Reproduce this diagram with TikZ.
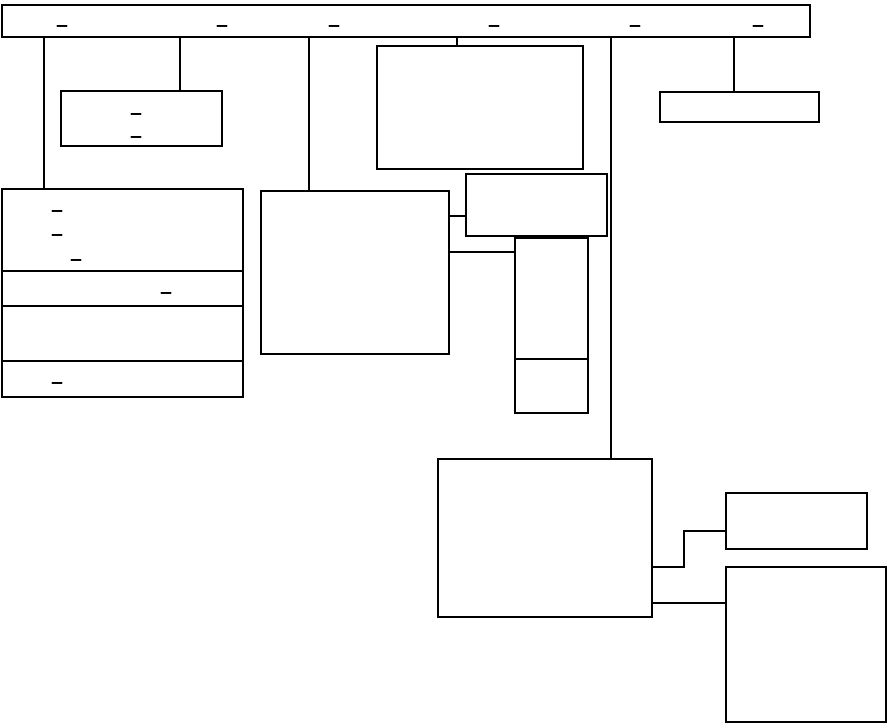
\documentclass[tikz,border=0pt]{standalone}
\usepackage{fontspec}
\newfontfamily\usfont{DejaVu Sans}
\usepackage{tikz}

\tikzset{
  box/.style={draw, line width=2.2pt, inner sep=0pt},
  thin/.style={line width=1.2pt},
  thick/.style={line width=2.8pt},
  uscore/.style={inner sep=0pt, anchor=south, font=\usfont\bfseries\fontsize{21}{24}\selectfont}
}

\begin{document}
\begin{tikzpicture}[x=1pt, y=-1pt]
  \useasboundingbox (0,0) rectangle (887,723);
  %% top bar
  \node[box, minimum width=808, minimum height=32] (bar) at (406,21) {};
  \foreach \x [count=\i] in {62,222,334,494,635,758}
    \node[uscore] (bu\i) at (\x,28) {\_};
  %% boxes below the bar
  \node[box, minimum width=161, minimum height=55] (lbl) at (141.5,118.5) {};
  \node[uscore] (lu1) at (136,116) {\_};
  \node[uscore] (lu2) at (136,139) {\_};
  \node[box, minimum width=241, minimum height=208] (reg) at (122.5,293) {};
  \draw[thin] (reg.west |- 0,271) -- (reg.east |- 0,271);
  \draw[thin] (reg.west |- 0,306) -- (reg.east |- 0,306);
  \draw[box] (reg.west |- 0,361) -- (reg.east |- 0,361);
  \foreach \x/\y [count=\i] in {57/213,57/237,76/262,166/295,57/385}
    \node[uscore] (ru\i) at (\x,\y) {\_};
  \node[box, minimum width=188, minimum height=163] (mid) at (355,272.5) {};
  \node[box, minimum width=206, minimum height=123] (topc) at (480,107.5) {};
  \node[box, minimum width=159, minimum height=30] (rtop) at (739.5,107) {};
  \node[box, minimum width=141, minimum height=62] (side) at (536.5,205) {};
  \node[box, minimum width=73, minimum height=175] (tall) at (551.5,325.5) {};
  \draw[box] (tall.west |- 0,359) -- (tall.east |- 0,359);
  %% lower group
  \node[box, minimum width=214, minimum height=158] (bot) at (545,538) {};
  \node[box, minimum width=141, minimum height=56] (bsmall) at (796.5,521) {};
  \node[box, minimum width=160, minimum height=155] (bbig) at (806,644.5) {};
  %% connectors from the bar
  \draw[thin] (bar.south -| 44,0) -- (reg.north -| 44,0);
  \draw[thick] (bar.south -| 180,0) -- (lbl.north -| 180,0);
  \draw[thick] (bar.south -| 309,0) -- (mid.north -| 309,0);
  \draw[thin] (bar.south -| 457,0) -- (topc.north -| 457,0);
  \draw[thin] (bar.south -| 611,0) -- (bot.north -| 611,0);
  \draw[thin] (bar.south -| 734,0) -- (rtop.north -| 734,0);
  %% side connectors
  \draw[thin] (mid.east |- 0,216) -- (side.west |- 0,216);
  \draw[thick] (mid.east |- 0,252) -- (tall.west |- 0,252);
  \draw[thick] (bot.east |- 0,567) -| (684,531) -- (bsmall.west |- 0,531);
  \draw[thick] (bot.east |- 0,603) -- (bbig.west |- 0,603);
\end{tikzpicture}
\end{document}
